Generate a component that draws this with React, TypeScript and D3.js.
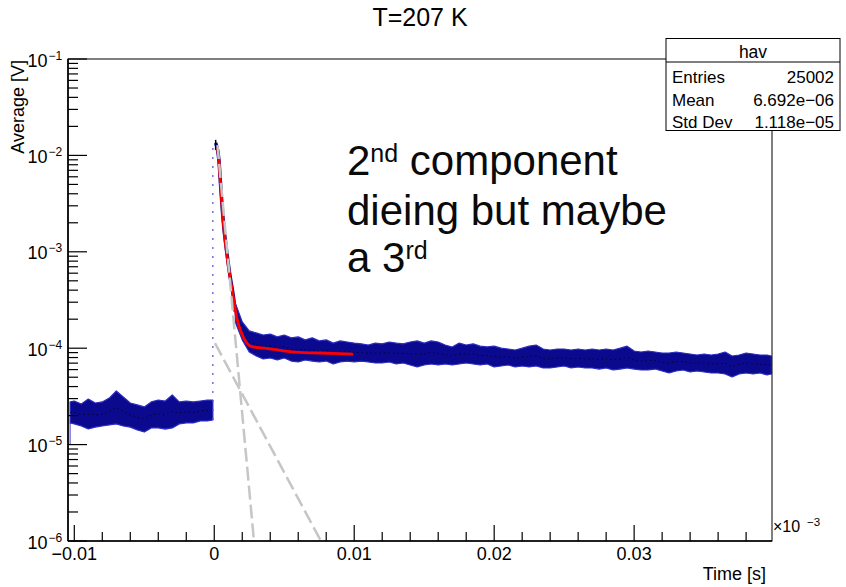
import React from 'react';
import * as d3 from 'd3';

// ---------- data ----------
const preTime = [-0.0103, -0.01, -0.0095, -0.009, -0.0085, -0.008, -0.0075, -0.007, -0.0065, -0.006, -0.0055, -0.005, -0.0045, -0.004, -0.0035, -0.003, -0.0025, -0.002, -0.0015, -0.001, -0.0005, -0.0001];
const preHi = [2.77e-5, 2.83e-5, 2.64e-5, 2.97e-5, 2.70e-5, 2.77e-5, 3.04e-5, 3.60e-5, 3.12e-5, 2.70e-5, 2.58e-5, 2.46e-5, 2.77e-5, 2.90e-5, 2.83e-5, 3.27e-5, 2.77e-5, 2.83e-5, 2.77e-5, 2.83e-5, 2.90e-5, 2.90e-5];
const preLo = [1.68e-5, 1.64e-5, 1.56e-5, 1.45e-5, 1.52e-5, 1.56e-5, 1.60e-5, 1.64e-5, 1.56e-5, 1.52e-5, 1.42e-5, 1.35e-5, 1.49e-5, 1.49e-5, 1.45e-5, 1.49e-5, 1.64e-5, 1.68e-5, 1.68e-5, 1.76e-5, 1.76e-5, 1.80e-5];
const edgeLow = 1.0e-5;

const steepTime = [0.0001, 0.00033, 0.00048, 0.00064, 0.00089, 0.00112, 0.00136, 0.0015];
const steepVal = [1.35e-2, 9.0e-3, 4.3e-3, 2.1e-3, 1.0e-3, 5.7e-4, 3.5e-4, 2.4e-4];
const firstBinHi = 1.45e-2;
const firstBinLo = 1.14e-2;

const postTime = [0.0015, 0.002, 0.0025, 0.003, 0.0035, 0.004, 0.0045, 0.005, 0.0055, 0.006, 0.0065, 0.007, 0.0075, 0.008, 0.0085, 0.009, 0.0095, 0.01, 0.0105, 0.011, 0.0115, 0.012, 0.0125, 0.013, 0.0135, 0.014, 0.0145, 0.015, 0.0155, 0.016, 0.0165, 0.017, 0.0175, 0.018, 0.0185, 0.019, 0.0195, 0.02, 0.0205, 0.021, 0.0215, 0.022, 0.0225, 0.023, 0.0235, 0.024, 0.0245, 0.025, 0.0255, 0.026, 0.0265, 0.027, 0.0275, 0.028, 0.0285, 0.029, 0.0295, 0.03, 0.0305, 0.031, 0.0315, 0.032, 0.0325, 0.033, 0.0335, 0.034, 0.0345, 0.035, 0.0355, 0.036, 0.0365, 0.037, 0.0375, 0.038, 0.0385, 0.039, 0.0395, 0.0398];
const postHi = [2.94e-4, 1.87e-4, 1.51e-4, 1.44e-4, 1.37e-4, 1.40e-4, 1.31e-4, 1.37e-4, 1.28e-4, 1.31e-4, 1.22e-4, 1.28e-4, 1.19e-4, 1.22e-4, 1.13e-4, 1.19e-4, 1.16e-4, 1.13e-4, 1.11e-4, 1.08e-4, 1.13e-4, 1.11e-4, 1.16e-4, 1.13e-4, 1.11e-4, 1.16e-4, 1.19e-4, 1.13e-4, 1.19e-4, 1.16e-4, 1.08e-4, 1.03e-4, 1.13e-4, 1.08e-4, 1.11e-4, 1.05e-4, 1.03e-4, 1.05e-4, 1.00e-4, 9.81e-5, 9.58e-5, 1.00e-4, 1.05e-4, 1.08e-4, 9.81e-5, 9.58e-5, 9.81e-5, 9.81e-5, 9.58e-5, 9.81e-5, 9.58e-5, 9.81e-5, 9.58e-5, 9.81e-5, 9.58e-5, 1.00e-4, 1.05e-4, 9.35e-5, 9.13e-5, 9.35e-5, 9.13e-5, 8.92e-5, 8.92e-5, 9.13e-5, 8.92e-5, 8.71e-5, 8.50e-5, 8.71e-5, 8.50e-5, 8.71e-5, 9.13e-5, 8.30e-5, 8.50e-5, 8.92e-5, 8.71e-5, 8.50e-5, 8.50e-5, 8.30e-5];
const postLo = [1.87e-4, 1.22e-4, 9.13e-5, 8.30e-5, 7.73e-5, 7.91e-5, 7.54e-5, 7.91e-5, 7.36e-5, 7.19e-5, 7.54e-5, 7.36e-5, 7.19e-5, 7.36e-5, 6.86e-5, 7.19e-5, 7.36e-5, 7.19e-5, 7.36e-5, 7.19e-5, 7.02e-5, 7.02e-5, 7.19e-5, 6.86e-5, 7.02e-5, 6.69e-5, 6.38e-5, 6.69e-5, 6.86e-5, 6.69e-5, 6.86e-5, 6.69e-5, 6.86e-5, 7.02e-5, 6.86e-5, 6.69e-5, 6.86e-5, 6.38e-5, 6.54e-5, 6.69e-5, 6.38e-5, 6.54e-5, 6.38e-5, 6.54e-5, 6.23e-5, 6.23e-5, 6.38e-5, 6.54e-5, 6.23e-5, 6.38e-5, 6.23e-5, 6.23e-5, 6.08e-5, 6.23e-5, 5.94e-5, 6.08e-5, 6.23e-5, 6.08e-5, 5.94e-5, 5.94e-5, 6.08e-5, 5.80e-5, 5.53e-5, 5.80e-5, 5.94e-5, 5.66e-5, 5.80e-5, 5.66e-5, 5.53e-5, 5.53e-5, 5.40e-5, 5.03e-5, 5.40e-5, 5.53e-5, 5.40e-5, 5.53e-5, 5.27e-5, 5.40e-5];

const fitTime = [0.00023, 0.00033, 0.00048, 0.00064, 0.00089, 0.00112, 0.00136, 0.0016, 0.00196, 0.00267, 0.00374, 0.00493, 0.00612, 0.0085, 0.00993];
const fitVal = [1.19e-2, 8.96e-3, 4.2e-3, 2.05e-3, 9.6e-4, 5.5e-4, 3.4e-4, 2.1e-4, 1.43e-4, 1.04e-4, 9.97e-5, 9.4e-5, 9.06e-5, 8.85e-5, 8.7e-5];

const comp1Time = [0.000229, 0.002837];
const comp1Val = [1.28e-2, 1.0e-6];
const comp2Time = [0.00005, 0.00762];
const comp2Val = [1.13e-4, 1.0e-6];

const xMajor = [-0.01, 0, 0.01, 0.02, 0.03];
const xMajorLabels = ['\u22120.01', '0', '0.01', '0.02', '0.03'];
const yExps = [-6, -5, -4, -3, -2, -1];

const statsNames = ['Entries', 'Mean', 'Std Dev'];
const statsValues = ['25002', '6.692e\u221206', '1.118e\u221205'];

const FONT = '"Liberation Sans", Arial, Helvetica, sans-serif';

export default function App() {
  const W = 846, H = 587;
  const L = 68, R = 772, T = 59, B = 541;
  const x = d3.scaleLinear().domain([-0.01045, 0.03985]).range([L, R]);
  const y = d3.scaleLog().domain([1e-6, 1e-1]).range([B, T]);

  const band = (t: number[], hi: number[], lo: number[]) =>
    d3.area<number>()
      .x(i => x(t[i]))
      .y0(i => y(lo[i]))
      .y1(i => y(hi[i]))(d3.range(t.length)) as string;
  const mid = (t: number[], hi: number[], lo: number[]) =>
    d3.line<number>()
      .x(i => x(t[i]))
      .y(i => y(Math.sqrt(hi[i] * lo[i])))(d3.range(t.length)) as string;
  const lineOf = (t: number[], v: number[], curve: any = d3.curveLinear) =>
    d3.line<number>().curve(curve)
      .x(i => x(t[i]))
      .y(i => y(v[i]))(d3.range(t.length)) as string;

  const xMinor = d3.range(-10, 40, 2).map(k => k / 1000).filter(v => !xMajor.some(m => Math.abs(m - v) < 1e-9));
  const yMinor: number[] = [];
  for (let e = -6; e < -1; e++) for (let m = 2; m <= 9; m++) yMinor.push(m * Math.pow(10, e));

  const navy = '#0b0a8e';
  const grey = '#c6c6c6';

  return (
    <svg width={W} height={H} style={{ position: 'absolute', left: 0, top: 0, background: '#fff' }} fontFamily={FONT}>
      <rect x={0} y={0} width={W} height={H} fill="#fff" />
      <defs>
        <clipPath id="frame"><rect x={L} y={T} width={R - L} height={B - T} /></clipPath>
      </defs>

      {/* title */}
      <text x={420} y={26} textAnchor="middle" fontSize={25} fill="#000">T=207 K</text>

      <g clipPath="url(#frame)">
        {/* pre-trigger baseline */}
        <line x1={x(preTime[0])} x2={x(preTime[0])} y1={y(preLo[0])} y2={y(edgeLow)} stroke="#3a3ad0" strokeWidth={1} />
        <path d={band(preTime, preHi, preLo)} fill={navy} stroke="#2c2cc0" strokeWidth={1.2} strokeLinejoin="round" />
        <path d={mid(preTime, preHi, preLo)} fill="none" stroke="#000" strokeWidth={1.1} strokeDasharray="1.5 3" opacity={0.6} />

        {/* rise at t=0 */}
        <line x1={x(preTime[preTime.length - 1])} x2={x(preTime[preTime.length - 1])}
          y1={y(preLo[preLo.length - 1])} y2={y(steepVal[0])}
          stroke="#5050d0" strokeWidth={1.2} strokeDasharray="2 7" />

        {/* steep data part */}
        <path d={lineOf(steepTime, steepVal, d3.curveMonotoneX)} fill="none" stroke={navy} strokeWidth={3.5} />
        <line x1={x(steepTime[0])} x2={x(steepTime[0])} y1={y(firstBinHi)} y2={y(firstBinLo)} stroke="#000" strokeWidth={1.5} />

        {/* post-trigger tail */}
        <path d={band(postTime, postHi, postLo)} fill={navy} stroke="#2c2cc0" strokeWidth={1.2} strokeLinejoin="round" />
        <path d={mid(postTime, postHi, postLo)} fill="none" stroke="#000" strokeWidth={1.1} strokeDasharray="1.5 3" opacity={0.6} />

        {/* fit */}
        <path d={lineOf(fitTime, fitVal, d3.curveMonotoneX)} fill="none" stroke="#ff0000" strokeWidth={2.8} />

        {/* components */}
        <path d={lineOf(comp1Time, comp1Val)} fill="none" stroke={grey} strokeWidth={2.5} strokeDasharray="14 5" />
        <path d={lineOf(comp2Time, comp2Val)} fill="none" stroke={grey} strokeWidth={2.5} strokeDasharray="14 5" />
      </g>

      {/* frame */}
      <rect x={L} y={T} width={R - L} height={B - T} fill="none" stroke="#000" strokeWidth={1} />
      <line x1={L} x2={L} y1={T} y2={B} stroke="#000" strokeWidth={1.6} />
      <line x1={L} x2={R} y1={B} y2={B} stroke="#000" strokeWidth={1.6} />

      {/* x ticks */}
      {xMajor.map((v, i) => (
        <g key={'xm' + i}>
          <line x1={x(v)} x2={x(v)} y1={B} y2={B - 16} stroke="#000" strokeWidth={1.2} />
          <text x={x(v)} y={560} textAnchor="middle" fontSize={18} fill="#000">{xMajorLabels[i]}</text>
        </g>
      ))}
      {xMinor.map((v, i) => (
        <line key={'xn' + i} x1={x(v)} x2={x(v)} y1={B} y2={B - 9} stroke="#000" strokeWidth={1.2} />
      ))}

      {/* y ticks */}
      {yExps.map((e, i) => {
        const yy = y(Math.pow(10, e));
        return (
          <g key={'ym' + i}>
            <line x1={L} x2={L + 19} y1={yy} y2={yy} stroke="#000" strokeWidth={1.2} />
            <text x={47.5} y={yy + 7.5} textAnchor="end" fontSize={18} fill="#000">10</text>
            <text x={48.5} y={yy + 0.5} textAnchor="start" fontSize={12} fill="#000">{'\u2212' + Math.abs(e)}</text>
          </g>
        );
      })}
      {yMinor.map((v, i) => (
        <line key={'yn' + i} x1={L} x2={L + 10} y1={y(v)} y2={y(v)} stroke="#000" strokeWidth={1.2} />
      ))}

      {/* axis titles */}
      <text transform={`translate(24,${T + 1}) rotate(-90)`} textAnchor="end" fontSize={18} fill="#000">Average [V]</text>
      <text x={766} y={580} textAnchor="end" fontSize={18} fill="#000">Time [s]</text>
      <text x={773} y={532} fontSize={16} fill="#000">×10</text>
      <text x={807} y={526} fontSize={11.5} fill="#000">{'\u22123'}</text>

      {/* stats box */}
      <rect x={666} y={38.5} width={174} height={92} fill="#fff" stroke="#000" strokeWidth={1} />
      <line x1={666} x2={840} y1={62} y2={62} stroke="#000" strokeWidth={1} />
      <text x={753} y={57.5} textAnchor="middle" fontSize={17.5} fill="#000">hav</text>
      {statsNames.map((n, i) => (
        <g key={'st' + i}>
          <text x={672} y={83 + i * 22.7} fontSize={17} fill="#000">{n}</text>
          <text x={834} y={83 + i * 22.7} textAnchor="end" fontSize={17} fill="#000">{statsValues[i]}</text>
        </g>
      ))}

      {/* annotation */}
      <g fontFamily='"Liberation Sans", Arial, sans-serif' fill="#0a0a0a">
        <text x={347} y={175} fontSize={42}>2<tspan fontSize={25} dy={-13}>nd</tspan><tspan fontSize={42} dy={13}> component</tspan></text>
        <text x={347} y={225} fontSize={42}>dieing but maybe</text>
        <text x={347} y={272} fontSize={42}>a 3<tspan fontSize={25} dy={-13}>rd</tspan></text>
      </g>
    </svg>
  );
}
